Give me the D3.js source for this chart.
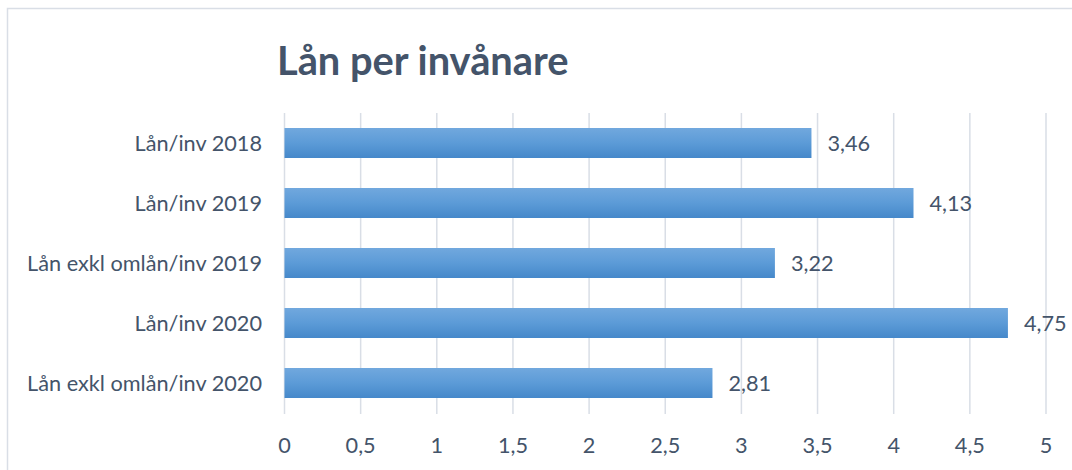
<!DOCTYPE html>
<html><head><meta charset="utf-8">
<script src="https://cdn.jsdelivr.net/npm/d3@7"></script>
<style>body{margin:0;background:#fff;} svg{display:block;}</style>
</head><body>
<svg id="c" width="1072" height="470"></svg>
<script>
const categories = ["Lån/inv 2018","Lån/inv 2019","Lån exkl omlån/inv 2019","Lån/inv 2020","Lån exkl omlån/inv 2020"];
const values = [3.46, 4.13, 3.22, 4.75, 2.81];
const tickValues = [0,0.5,1,1.5,2,2.5,3,3.5,4,4.5,5];
const title = "Lån per invånare";

const svg = d3.select("#c");
const font = "Lato, 'Open Sans', sans-serif";
const txt = "#44546A";
const fs = 21.7;
const fmt = v => String(v).replace(".", ",");

// frame
svg.append("path").attr("d","M7.5,470 V8.5 H1072").attr("fill","none").attr("stroke","#D9DEE6").attr("stroke-width",1.5);

const x = d3.scaleLinear().domain([0,5]).range([284.5,1046]);
const y = d3.scaleBand().domain(categories).range([113,413]).paddingInner(0.5).paddingOuter(0.25);

const defs = svg.append("defs");
const g = defs.append("linearGradient").attr("id","bg").attr("x1",0).attr("y1",0).attr("x2",0).attr("y2",1);
g.append("stop").attr("offset","0%").attr("stop-color","#71A8DE");
g.append("stop").attr("offset","50%").attr("stop-color","#5C9BD7");
g.append("stop").attr("offset","100%").attr("stop-color","#4588CA");

// gridlines
svg.append("g").selectAll("line").data(tickValues).join("line")
  .attr("x1",d=>x(d)).attr("x2",d=>x(d)).attr("y1",113).attr("y2",414)
  .attr("stroke","#D9DEE6").attr("stroke-width",1.5);

// x tick labels
svg.append("g").selectAll("text").data(tickValues).join("text")
  .attr("x",d=>x(d)).attr("y",445).attr("dy","0.35em").attr("text-anchor","middle")
  .attr("font-family",font).attr("font-size",fs).attr("fill",txt).text(d=>fmt(d));

// bars
svg.append("g").selectAll("rect").data(values).join("rect")
  .attr("x",x(0)).attr("y",(d,i)=>y(categories[i])).attr("width",d=>x(d)-x(0)).attr("height",y.bandwidth())
  .attr("fill","url(#bg)");

// data labels
svg.append("g").selectAll("text").data(values).join("text")
  .attr("x",d=>x(d)+16).attr("y",(d,i)=>y(categories[i])+y.bandwidth()/2).attr("dy","0.35em")
  .attr("font-family",font).attr("font-size",fs).attr("fill",txt).text(d=>fmt(d));

// category labels
svg.append("g").selectAll("text").data(categories).join("text")
  .attr("x",262).attr("y",d=>y(d)+y.bandwidth()/2).attr("dy","0.35em").attr("text-anchor","end")
  .attr("font-family",font).attr("font-size",fs).attr("fill",txt).text(d=>d);

// title
svg.append("text").attr("x",277).attr("y",75).attr("font-family",font).attr("font-weight",700)
  .attr("font-size",39.8).attr("fill",txt).text(title);
</script>
</body></html>
